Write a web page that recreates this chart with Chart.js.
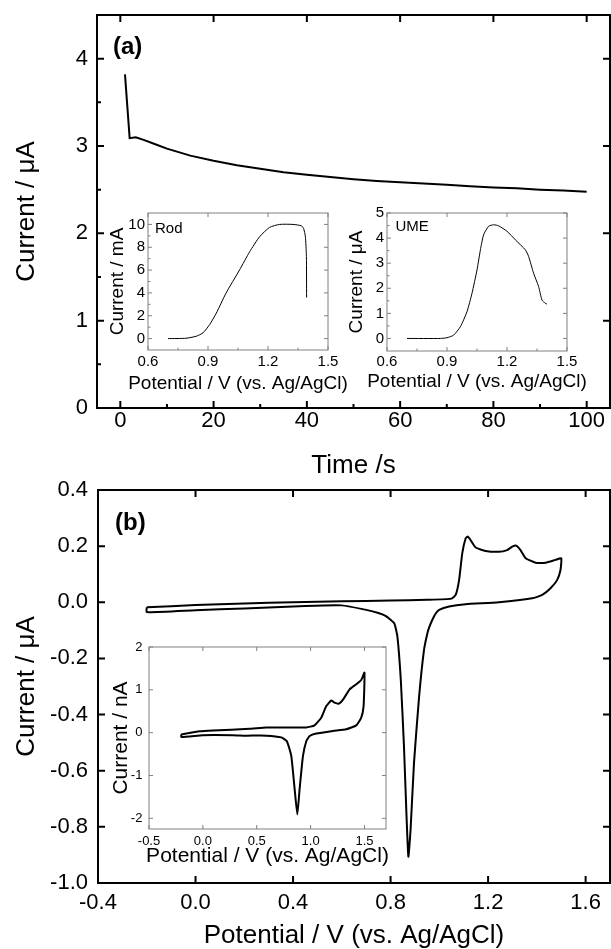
<!DOCTYPE html>
<html>
<head>
<meta charset="utf-8">
<script src="https://cdn.jsdelivr.net/npm/chart.js@4.4.0/dist/chart.umd.min.js"></script>
<style>
  html, body { margin: 0; padding: 0; background: #fff; overflow: hidden; }
  body { width: 611px; height: 949px; position: relative; }
  canvas { position: absolute; }
</style>
</head>
<body>
<canvas id="mainA"></canvas>
<canvas id="rod"></canvas>
<canvas id="ume"></canvas>
<canvas id="mainB"></canvas>
<canvas id="insetB"></canvas>
<script>
// (a) chronoamperometry
const timeS = [1, 2, 3.3, 5, 7.5, 10, 15, 20, 25, 30, 35, 40, 45, 50, 55, 60, 65, 70, 75, 80, 85, 90, 95, 100];
const currentUA = [3.82, 3.09, 3.10, 3.07, 3.02, 2.97, 2.89, 2.83, 2.78, 2.74, 2.70, 2.67, 2.645, 2.62, 2.60, 2.585, 2.57, 2.555, 2.54, 2.525, 2.515, 2.50, 2.49, 2.475];
const timeTicks = [0, 20, 40, 60, 80, 100];
const timeMinor = [10, 30, 50, 70, 90];
const currentTicksA = [0, 1, 2, 3, 4];
const currentMinorA = [0.5, 1.5, 2.5, 3.5];

// (a) inset: Rod
const rodPotential = [0.70, 0.79, 0.84, 0.875, 0.908, 0.942, 0.99, 1.058, 1.108, 1.158, 1.208, 1.258, 1.325, 1.367, 1.378, 1.387, 1.392, 1.393];
const rodCurrent = [0, 0.03, 0.2, 0.5, 1.22, 2.24, 3.98, 6.02, 7.6, 8.92, 9.74, 10.0, 10.0, 9.88, 9.65, 8.92, 7.18, 3.6];
const rodPotTicks = [0.6, 0.9, 1.2, 1.5];
const rodPotMinor = [0.75, 1.05, 1.35];
const rodCurTicks = [0, 2, 4, 6, 8, 10];
const rodCurMinor = [1, 3, 5, 7, 9];

// (a) inset: UME
const umePotential = [0.70, 0.867, 0.90, 0.933, 0.967, 1.0, 1.025, 1.05, 1.067, 1.083, 1.108, 1.133, 1.158, 1.20, 1.242, 1.292, 1.308, 1.333, 1.358, 1.375, 1.392, 1.40];
const umeCurrent = [0, 0, 0.03, 0.13, 0.47, 1.07, 1.8, 2.73, 3.53, 4.13, 4.47, 4.53, 4.49, 4.27, 3.93, 3.53, 3.27, 2.6, 2.07, 1.53, 1.4, 1.37];
const umeCurTicks = [0, 1, 2, 3, 4, 5];
const umeCurMinor = [0.5, 1.5, 2.5, 3.5, 4.5];

// (b) cyclic voltammogram
const cvPotential = [-0.2, 0.0, 0.2, 0.4, 0.6, 0.8, 0.95, 1.05, 1.067, 1.081, 1.094, 1.108, 1.117, 1.128, 1.149, 1.19, 1.244, 1.278, 1.299, 1.315, 1.333, 1.354, 1.395, 1.436, 1.476, 1.50,
  1.497, 1.483, 1.456, 1.422, 1.381, 1.244, 1.108, 1.04, 0.999, 0.985, 0.971, 0.958, 0.951, 0.937, 0.917, 0.896, 0.882, 0.873, 0.865, 0.855, 0.842, 0.828, 0.815, 0.781, 0.75, 0.70, 0.6, 0.45, 0.2, 0.0, -0.2, -0.2];
const cvCurrent = [-0.018, -0.010, -0.004, 0.0, 0.004, 0.006, 0.009, 0.013, 0.026, 0.079, 0.174, 0.228, 0.234, 0.222, 0.195, 0.183, 0.180, 0.186, 0.198, 0.202, 0.186, 0.157, 0.141, 0.141, 0.151, 0.157,
  0.115, 0.079, 0.05, 0.026, 0.014, 0.0, -0.007, -0.015, -0.027, -0.040, -0.063, -0.090, -0.110, -0.170, -0.336, -0.573, -0.811, -0.906, -0.752, -0.514, -0.277, -0.122, -0.075, -0.049, -0.038, -0.027, -0.011, -0.013, -0.022, -0.028, -0.035, -0.018];
const cvPotTicks = [-0.4, 0.0, 0.4, 0.8, 1.2, 1.6];
const cvCurTicks = [-1.0, -0.8, -0.6, -0.4, -0.2, 0.0, 0.2, 0.4];

// (b) inset, nA
const cvInsetPotential = [-0.2, -0.03, 0.094, 0.434, 0.589, 0.80, 0.96, 1.037, 1.099, 1.146, 1.192, 1.222, 1.263, 1.306, 1.362, 1.424, 1.470, 1.50,
  1.492, 1.47, 1.424, 1.331, 1.207, 1.053, 0.991, 0.960, 0.929, 0.898, 0.877, 0.852, 0.821, 0.780, 0.728, 0.589, 0.40, 0.279, 0.0, -0.2, -0.2];
const cvInsetCurrent = [-0.04, 0.03, 0.05, 0.09, 0.12, 0.12, 0.12, 0.17, 0.35, 0.62, 0.75, 0.70, 0.68, 0.79, 1.01, 1.13, 1.23, 1.40,
  0.62, 0.35, 0.17, 0.08, 0.04, -0.02, -0.08, -0.20, -0.55, -1.32, -1.91, -1.32, -0.55, -0.20, -0.11, -0.07, -0.07, -0.06, -0.06, -0.10, -0.04];
const cvInsetPotTicks = [-0.5, 0.0, 0.5, 1.0, 1.5];
const cvInsetCurTicks = [-2, -1, 0, 1, 2];

const FONT = "'Liberation Sans', Arial, sans-serif";

// frame + inward ticks on all four sides
const framePlugin = {
  id: 'frame',
  afterDraw(chart, args, o) {
    const { ctx, chartArea: a, scales: { x, y } } = chart;
    ctx.save();
    ctx.strokeStyle = o.color;
    ctx.lineWidth = o.width;
    ctx.strokeRect(a.left, a.top, a.right - a.left, a.bottom - a.top);
    ctx.beginPath();
    (o.xMajor || []).forEach(v => {
      const p = x.getPixelForValue(v);
      ctx.moveTo(p, a.bottom); ctx.lineTo(p, a.bottom - o.major);
      ctx.moveTo(p, a.top); ctx.lineTo(p, a.top + o.major);
    });
    (o.yMajor || []).forEach(v => {
      const p = y.getPixelForValue(v);
      ctx.moveTo(a.left, p); ctx.lineTo(a.left + o.major, p);
      ctx.moveTo(a.right, p); ctx.lineTo(a.right - o.major, p);
    });
    (o.xMinor || []).forEach(v => {
      const p = x.getPixelForValue(v);
      ctx.moveTo(p, a.bottom); ctx.lineTo(p, a.bottom - o.minor);
    });
    (o.yMinor || []).forEach(v => {
      const p = y.getPixelForValue(v);
      ctx.moveTo(a.left, p); ctx.lineTo(a.left + o.minor, p);
    });
    ctx.stroke();
    ctx.restore();
  }
};

// panel letters, inset names and (for insets) the x title, which the scale would squeeze
const labelPlugin = {
  id: 'panelLabel',
  afterDraw(chart, args, o) {
    const { ctx, chartArea: a } = chart;
    ctx.save();
    ctx.fillStyle = '#000';
    ctx.textBaseline = 'middle';
    if (o.text) {
      ctx.font = o.font;
      ctx.textAlign = 'left';
      ctx.fillText(o.text, a.left + o.dx, a.top + o.dy);
    }
    if (o.xTitle) {
      ctx.font = o.xTitleFont;
      ctx.textAlign = 'center';
      ctx.fillText(o.xTitle, (a.left + a.right) / 2, a.bottom + o.xTitleDy);
    }
    ctx.restore();
  }
};

function makeChart(id, box, m, c) {
  const canvas = document.getElementById(id);
  const w = Math.round(box.R - box.L + m.l + m.r), h = Math.round(box.B - box.T + m.t + m.b);
  canvas.style.left = (box.L - m.l) + 'px';
  canvas.style.top = (box.T - m.t) + 'px';
  canvas.width = w; canvas.height = h;
  canvas.style.width = w + 'px'; canvas.style.height = h + 'px';
  const pts = c.xs.map((v, i) => ({ x: v, y: c.ys[i] }));
  const noPad = s => { s.paddingLeft = 0; s.paddingRight = 0; s.paddingTop = 0; s.paddingBottom = 0; };
  return new Chart(canvas, {
    type: 'scatter',
    data: {
      datasets: [{
        data: pts, showLine: true, borderColor: '#000', borderWidth: c.lineWidth,
        pointRadius: 0, tension: c.tension || 0, fill: false
      }]
    },
    options: {
      responsive: false, animation: false, events: [],
      layout: { padding: { top: m.t, right: m.r, left: 0, bottom: 0 } },
      plugins: {
        legend: { display: false }, tooltip: { enabled: false },
        frame: c.frame,
        panelLabel: c.label || {}
      },
      scales: {
        x: {
          type: 'linear', min: c.xMin, max: c.xMax,
          grid: { display: false, drawTicks: false }, border: { display: false },
          afterBuildTicks: s => { s.ticks = c.frame.xMajor.map(v => ({ value: v })); },
          afterFit: s => { s.height = m.b; noPad(s); },
          ticks: {
            color: '#000', font: { family: FONT, size: c.tickSize }, padding: c.xTickPad,
            maxRotation: 0, autoSkip: false, callback: v => c.xFmt(v)
          },
          title: {
            display: !!c.xTitle, text: c.xTitle || '', color: '#000',
            font: { family: FONT, size: c.titleSize }, padding: { top: 0, bottom: c.xTitlePad || 0 }
          }
        },
        y: {
          type: 'linear', min: c.yMin, max: c.yMax,
          grid: { display: false, drawTicks: false }, border: { display: false },
          afterBuildTicks: s => { s.ticks = c.frame.yMajor.map(v => ({ value: v })); },
          afterFit: s => { s.width = m.l; noPad(s); },
          ticks: {
            color: '#000', font: { family: FONT, size: c.tickSize }, padding: c.yTickPad,
            autoSkip: false, callback: v => c.yFmt(v)
          },
          title: {
            display: true, text: c.yTitle, color: '#000',
            font: { family: FONT, size: c.titleSize }, padding: { top: c.yTitlePad, bottom: 0 }
          }
        }
      }
    },
    plugins: [framePlugin, labelPlugin]
  });
}

const int = v => String(Math.round(v));
const one = v => (Math.abs(v) < 1e-9 ? 0 : v).toFixed(1);
const GREY = '#808080';
const POT = 'Potential / V (vs. Ag/AgCl)';

makeChart('mainA', { L: 97, T: 15, R: 609.5, B: 408 }, { l: 97, t: 15, r: 2, b: 77 }, {
  xs: timeS, ys: currentUA, lineWidth: 2,
  xMin: -5, xMax: 105, yMin: 0, yMax: 4.5,
  xFmt: int, yFmt: int, tickSize: 22, titleSize: 26,
  xTickPad: 0, yTickPad: 9, xTitlePad: 4, yTitlePad: 11,
  xTitle: 'Time /s', yTitle: 'Current / μA',
  frame: { color: '#000', width: 2, major: 7, minor: 4, xMajor: timeTicks, xMinor: timeMinor, yMajor: currentTicksA, yMinor: currentMinorA },
  label: { text: '(a)', font: 'bold 24px ' + FONT, dx: 16, dy: 32 }
});

makeChart('rod', { L: 148, T: 213, R: 328, B: 350 }, { l: 44, t: 10, r: 26, b: 46 }, {
  xs: rodPotential, ys: rodCurrent, lineWidth: 1, tension: 0.2,
  xMin: 0.6, xMax: 1.5, yMin: -1, yMax: 11,
  xFmt: one, yFmt: int, tickSize: 15, titleSize: 19,
  xTickPad: 2.7, yTickPad: 3, yTitlePad: 2.6,
  yTitle: 'Current / mA',
  frame: { color: GREY, width: 1, major: 4, minor: 2.5, xMajor: rodPotTicks, xMinor: rodPotMinor, yMajor: rodCurTicks, yMinor: rodCurMinor },
  label: { text: 'Rod', font: '15px ' + FONT, dx: 7, dy: 16, xTitle: POT, xTitleFont: '19px ' + FONT, xTitleDy: 33.3 }
});

makeChart('ume', { L: 386.5, T: 213, R: 566.5, B: 351 }, { l: 44, t: 10, r: 26, b: 45 }, {
  xs: umePotential, ys: umeCurrent, lineWidth: 1, tension: 0.2,
  xMin: 0.6, xMax: 1.5, yMin: -0.5, yMax: 5,
  xFmt: one, yFmt: int, tickSize: 15, titleSize: 19,
  xTickPad: 1.7, yTickPad: 3, yTitlePad: 2.8,
  yTitle: 'Current / μA',
  frame: { color: GREY, width: 1, major: 4, minor: 2.5, xMajor: rodPotTicks, xMinor: rodPotMinor, yMajor: umeCurTicks, yMinor: umeCurMinor },
  label: { text: 'UME', font: '15px ' + FONT, dx: 8.5, dy: 14, xTitle: POT, xTitleFont: '19px ' + FONT, xTitleDy: 30.7 }
});

makeChart('mainB', { L: 98, T: 490, R: 609.5, B: 883 }, { l: 98, t: 20, r: 2, b: 72 }, {
  xs: cvPotential, ys: cvCurrent, lineWidth: 2, tension: 0.15,
  xMin: -0.4, xMax: 1.7, yMin: -1.0, yMax: 0.4,
  xFmt: one, yFmt: one, tickSize: 22, titleSize: 26,
  xTickPad: 7, yTickPad: 10, xTitlePad: 3.4, yTitlePad: 11,
  xTitle: POT, yTitle: 'Current / μA',
  frame: { color: '#000', width: 2, major: 7, minor: 4, xMajor: cvPotTicks, xMinor: [], yMajor: cvCurTicks, yMinor: [] },
  label: { text: '(b)', font: 'bold 24px ' + FONT, dx: 17, dy: 33 }
});

makeChart('insetB', { L: 149.3, T: 647, R: 386.7, B: 829.3 }, { l: 49, t: 10, r: 10, b: 42 }, {
  xs: cvInsetPotential, ys: cvInsetCurrent, lineWidth: 2, tension: 0.15,
  xMin: -0.5, xMax: 1.7, yMin: -2.25, yMax: 2,
  xFmt: one, yFmt: int, tickSize: 13, titleSize: 21,
  xTickPad: 4.5, yTickPad: 6.6, yTitlePad: 9,
  yTitle: 'Current / nA',
  frame: { color: GREY, width: 1, major: 4, minor: 2.5, xMajor: cvInsetPotTicks, xMinor: [], yMajor: cvInsetCurTicks, yMinor: [] },
  label: { xTitle: POT, xTitleFont: '21px ' + FONT, xTitleDy: 27.4 }
});
</script>
</body>
</html>
